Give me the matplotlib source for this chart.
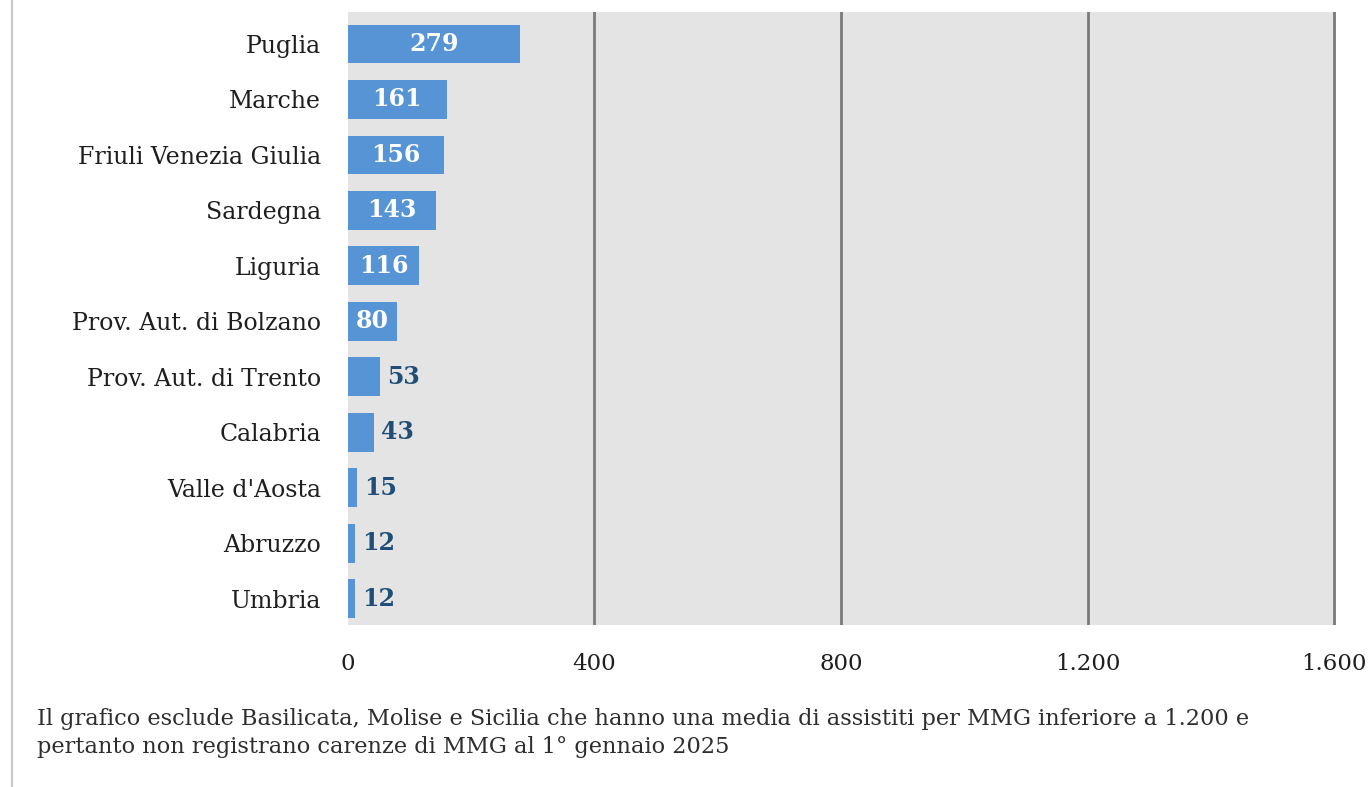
import matplotlib
matplotlib.use("Agg")
import matplotlib.pyplot as plt
from matplotlib.lines import Line2D

regions = ["Puglia", "Marche", "Friuli Venezia Giulia", "Sardegna", "Liguria",
           "Prov. Aut. di Bolzano", "Prov. Aut. di Trento", "Calabria",
           "Valle d'Aosta", "Abruzzo", "Umbria"]
values = [279, 161, 156, 143, 116, 80, 53, 43, 15, 12, 12]
xticks = [0, 400, 800, 1200, 1600]
xtick_labels = ["0", "400", "800", "1.200", "1.600"]
note = ("Il grafico esclude Basilicata, Molise e Sicilia che hanno una media di assistiti per MMG inferiore a 1.200 e\n"
        "pertanto non registrano carenze di MMG al 1° gennaio 2025")

plt.rcParams['font.family'] = ['DejaVu Serif']

fig = plt.figure(figsize=(13.69, 7.87), dpi=100)
ax = fig.add_axes([0.254, 0.206, 0.722, 0.779])
ax.set_facecolor("#e4e4e4")

ypos = list(range(len(regions)))
ax.barh(ypos, values, height=0.7, color="#5694d6", zorder=3)
ax.set_ylim(len(regions) - 1 + 0.47, -0.58)
ax.set_xlim(0, 1600 * 1.002)

for y, v in zip(ypos, values):
    if v >= 70:
        ax.text(v / 2, y, str(v), ha="center", va="center", color="white",
                fontsize=17, fontweight="bold", zorder=4)
    else:
        ax.text(v + 11, y, str(v), ha="left", va="center", color="#1f4e79",
                fontsize=17, fontweight="bold", zorder=4)

for xt in xticks[1:]:
    ax.axvline(xt, color="#7a7a7a", linewidth=2, zorder=2)

ax.set_yticks(ypos)
ax.set_yticklabels(regions, fontsize=17, color="#1e1e1e")
ax.set_xticks(xticks)
ax.set_xticklabels(xtick_labels, fontsize=16.5, color="#1e1e1e")
ax.tick_params(axis="both", length=0)
ax.tick_params(axis="x", pad=20)
ax.tick_params(axis="y", pad=19)
for s in ax.spines.values():
    s.set_visible(False)

fig.text(37 / 1369, 1 - 733 / 787, note, fontsize=16.2, color="#2e2e2e",
         ha="left", va="center", linespacing=1.4)

fig.add_artist(Line2D([12 / 1369, 12 / 1369], [0, 1], color="#c8c8c8", linewidth=1.5,
                      transform=fig.transFigure))

fig.savefig("out.png", dpi=100, facecolor="white")
